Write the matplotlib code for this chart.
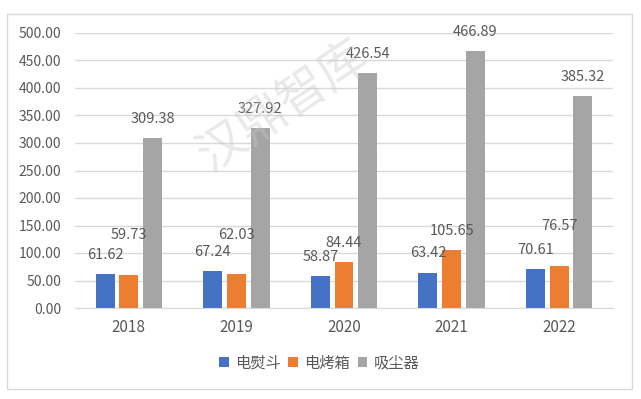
import matplotlib.pyplot as plt
from matplotlib.patches import Rectangle
import numpy as np

plt.rcParams['font.family'] = ['Noto Sans CJK SC', 'DejaVu Sans']

years = ["2018", "2019", "2020", "2021", "2022"]
series_names = ["电熨斗", "电烤箱", "吸尘器"]
iron = [61.62, 67.24, 58.87, 63.42, 70.61]
oven = [59.73, 62.03, 84.44, 105.65, 76.57]
vacuum = [309.38, 327.92, 426.54, 466.89, 385.32]
yticks = np.arange(0, 501, 50)

colors = ["#4472C4", "#ED7D31", "#A5A5A5"]
# how far each value label sits above its bar (pixels), as placed in the original
label_lift = [
    [19, 19, 19, 20, 19],
    [40, 39, 19, 19, 40],
    [19, 19, 19, 19, 19],
]
text_color = "#595959"
grid_color = "#D9D9D9"

fig = plt.figure(figsize=(6.41, 3.99), dpi=100)
fig.patches.append(Rectangle((7 / 641, 1 - 389 / 399), 625 / 641, 375 / 399,
                             transform=fig.transFigure, fill=False,
                             edgecolor=grid_color, linewidth=1))
ax = fig.add_axes([75 / 641, 1 - 308 / 399, 538 / 641, 275 / 399])

x = np.arange(len(years))
width = 0.176
step = 0.22
for i, (vals, name) in enumerate(zip([iron, oven, vacuum], series_names)):
    pos = x + (i - 1) * step
    ax.bar(pos, vals, width, color=colors[i], label=name, zorder=3)
    for p, v, lift in zip(pos, vals, label_lift[i]):
        ax.annotate(f"{v:.2f}", (p, v), xytext=(0, lift), textcoords="offset pixels",
                    ha="center", va="center", fontsize=10.5, color=text_color,
                    zorder=6)

ax.set_xlim(-0.5, len(years) - 0.5)
ax.set_ylim(0, 500)
ax.set_yticks(yticks)
ax.set_yticklabels([f"{t:.2f}" for t in yticks])
ax.set_xticks(x)
ax.set_xticklabels(years)
ax.tick_params(axis="both", length=0, colors=text_color, labelsize=10)
ax.tick_params(axis="x", pad=8, labelsize=11)
ax.tick_params(axis="y", pad=10)
ax.grid(axis="y", color=grid_color, linewidth=1, zorder=0)
for s in ["top", "right", "left"]:
    ax.spines[s].set_visible(False)
ax.spines["bottom"].set_color(grid_color)
ax.spines["bottom"].set_zorder(4)

ax.legend(loc="center", bbox_to_anchor=(319 / 641, 1 - 363 / 399),
          bbox_transform=fig.transFigure, ncol=3, frameon=False,
          fontsize=11, labelcolor=text_color, handlelength=0.65,
          handleheight=0.65, handletextpad=0.4, columnspacing=0.5)

fig.text(283 / 641, 1 - 106 / 399, "汉鼎智库", rotation=34, fontsize=35,
         color="#C8C8C8", alpha=0.4, ha="center", va="center",
         fontweight="light")

fig.savefig("out.png", dpi=100)
